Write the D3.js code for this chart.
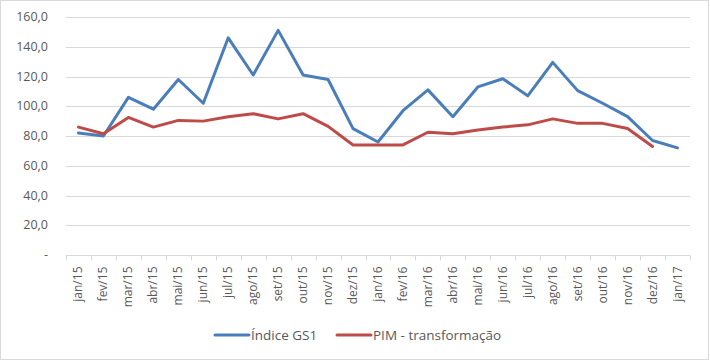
<!DOCTYPE html>
<html lang="pt">
<head>
  <meta charset="UTF-8">
  <title>Índice GS1 x PIM</title>
  <script src="https://d3js.org/d3.v7.min.js"></script>
  <style>
    body { margin: 0; background: #fff; }
    text { font-family: "Open Sans", "Liberation Sans", sans-serif; fill: #595959; }
  </style>
</head>
<body>
  <div id="chart"></div>
  <script>
    // dados
    const months = ["jan/15","fev/15","mar/15","abr/15","mai/15","jun/15","jul/15","ago/15","set/15","out/15","nov/15","dez/15",
                    "jan/16","fev/16","mar/16","abr/16","mai/16","jun/16","jul/16","ago/16","set/16","out/16","nov/16","dez/16","jan/17"];
    const gs1 = [82,80,106,98,118,102,146,121,151,121,118,85,76,97,111,93,113,118.5,107,129.5,110.5,102,93,77,72];
    const pim = [86,81.5,92.5,86,90.5,90,93,95,91.5,95,86.5,74,74,74,82.5,81.5,84,86,87.5,91.5,88.5,88.5,85,73,null];
    const yTicks = [0,20,40,60,80,100,120,140,160];
    const seriesNames = ["Índice GS1","PIM - transformação"];
    const colors = ["#4a7ebb","#be4b48"];

    const width = 710, height = 361;
    const m = { left: 66, right: 20, top: 17, bottom: 106 };

    const svg = d3.select("#chart").append("svg")
      .attr("width", width).attr("height", height);

    // moldura
    svg.append("rect")
      .attr("x", 0.5).attr("y", 0.5)
      .attr("width", width - 2).attr("height", height - 2)
      .attr("fill", "#fff").attr("stroke", "#d9d9d9");

    const x = d3.scaleBand().domain(months).range([m.left, width - m.right]);
    const y = d3.scaleLinear().domain([0, 160]).range([height - m.bottom, m.top]);

    // grade
    svg.append("g").selectAll("line")
      .data(yTicks.filter(d => d > 0))
      .enter().append("line")
      .attr("x1", m.left).attr("x2", width - m.right)
      .attr("y1", d => Math.round(y(d)) + 0.5).attr("y2", d => Math.round(y(d)) + 0.5)
      .attr("stroke", "#d9d9d9");

    // eixo y
    const fmt = d => d === 0 ? "-" : d3.format(".1f")(d).replace(".", ",");
    svg.append("g").selectAll("text")
      .data(yTicks)
      .enter().append("text")
      .attr("x", 48).attr("y", d => y(d) + 4)
      .attr("text-anchor", "end")
      .style("font-size", "12.5px")
      .text(fmt);

    // eixo x
    const y0 = Math.round(y(0)) + 0.5;
    const xa = svg.append("g");
    xa.append("line")
      .attr("x1", m.left).attr("x2", width - m.right)
      .attr("y1", y0).attr("y2", y0)
      .attr("stroke", "#d9d9d9");
    xa.selectAll(".tk")
      .data(months.concat([null]))
      .enter().append("line")
      .attr("x1", (d, i) => Math.round(m.left + i * x.step()) + 0.5)
      .attr("x2", (d, i) => Math.round(m.left + i * x.step()) + 0.5)
      .attr("y1", y0).attr("y2", y0 + 5)
      .attr("stroke", "#d9d9d9");
    xa.selectAll(".lb")
      .data(months)
      .enter().append("text")
      .attr("transform", d => `translate(${x(d) + x.bandwidth() / 2 + 4},${y0 + 11}) rotate(-90)`)
      .attr("text-anchor", "end")
      .style("font-size", "12px")
      .text(d => d);

    // linhas
    const line = d3.line()
      .defined(d => d.v != null)
      .x(d => x(d.m) + x.bandwidth() / 2)
      .y(d => y(d.v));

    [gs1, pim].forEach((vals, i) => {
      svg.append("path")
        .datum(months.map((mm, j) => ({ m: mm, v: vals[j] })))
        .attr("d", line)
        .attr("fill", "none")
        .attr("stroke", colors[i])
        .attr("stroke-width", 3)
        .attr("stroke-linejoin", "round")
        .attr("stroke-linecap", "round");
    });

    // legenda
    const legX = [215, 337];
    seriesNames.forEach((name, i) => {
      const g = svg.append("g").attr("transform", `translate(${legX[i]},335)`);
      g.append("line")
        .attr("x1", 0).attr("x2", 34).attr("y1", 0).attr("y2", 0)
        .attr("stroke", colors[i]).attr("stroke-width", 3)
        .attr("stroke-linecap", "round");
      g.append("text")
        .attr("x", 36).attr("y", 5)
        .style("font-size", "13.5px")
        .text(name);
    });
  </script>
</body>
</html>
